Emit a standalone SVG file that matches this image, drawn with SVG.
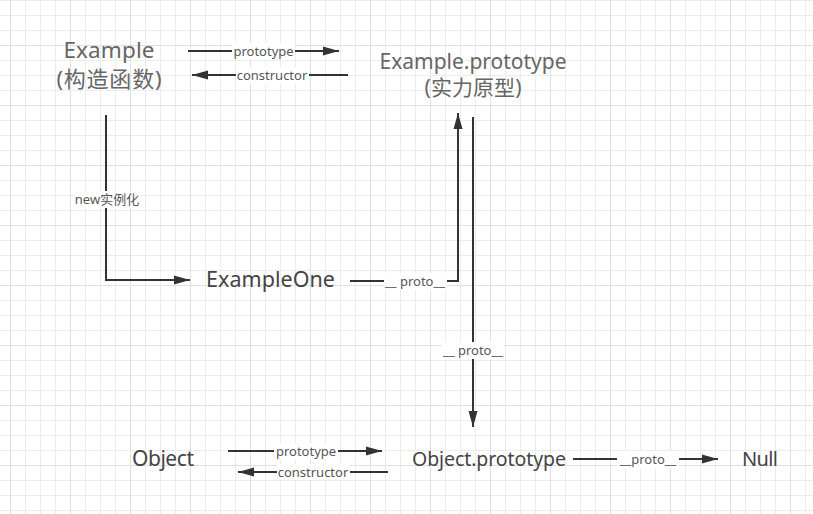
<svg xmlns="http://www.w3.org/2000/svg" width="813" height="514" viewBox="0 0 813 514">
<defs>
<pattern id="grid" x="10" y="0" width="15" height="15" patternUnits="userSpaceOnUse">
<path d="M0.5,0 V15 M0,0.5 H15" fill="none" stroke="#ececec" stroke-width="1"/>
</pattern>
<pattern id="grid4" x="10" y="45" width="60" height="60" patternUnits="userSpaceOnUse">
<path d="M0.5,0 V60 M0,0.5 H60" fill="none" stroke="#e0e0e0" stroke-width="1"/>
</pattern>
<marker id="arr" markerWidth="16" markerHeight="10" refX="16" refY="5" orient="auto" markerUnits="userSpaceOnUse">
<path d="M0,0.5 L16,5 L0,9.5 z" fill="#333"/>
</marker>
</defs>
<style>
.node{font-family:"Noto Sans","Noto Sans CJK SC",sans-serif;font-size:21px;fill:#444;text-anchor:middle}
.lite{fill:#666}
.edge{fill:none;stroke:#333;stroke-width:2;marker-end:url(#arr)}
.lbl{font-family:"Noto Sans","Noto Sans CJK SC",sans-serif;font-size:13px;fill:#555;text-anchor:middle}
.bg{fill:#fff}
</style>
<rect width="813" height="514" fill="#fff"/>
<rect width="813" height="514" fill="url(#grid)"/>
<rect width="813" height="514" fill="url(#grid4)"/>

<g id="connectors">
<path class="edge" d="M188,51 H339"/>
<rect class="bg" x="232" y="43" width="63" height="16"/>
<text class="lbl" x="263.5" y="56">prototype</text>

<path class="edge" d="M348,75 H192"/>
<rect class="bg" x="236" y="67" width="73" height="16"/>
<text class="lbl" x="272" y="80">constructor</text>

<path class="edge" d="M106,115 V280 H190"/>
<rect class="bg" x="74" y="191" width="66" height="17"/>
<text class="lbl" x="107" y="204">new实例化</text>

<path class="edge" d="M350,281 H458 V113"/>
<rect class="bg" x="384" y="273" width="63" height="17"/>
<text class="lbl" x="415" y="286">__ proto__</text>

<path class="edge" d="M473,117 V427"/>
<rect class="bg" x="442" y="342" width="62" height="17"/>
<text class="lbl" x="473" y="355">__ proto__</text>

<path class="edge" d="M228,451 H382"/>
<rect class="bg" x="274" y="443" width="64" height="16"/>
<text class="lbl" x="306" y="456">prototype</text>

<path class="edge" d="M388,472 H238"/>
<rect class="bg" x="277" y="464" width="73" height="16"/>
<text class="lbl" x="313" y="477">constructor</text>

<path class="edge" d="M573,459 H718"/>
<rect class="bg" x="617" y="451" width="62" height="17"/>
<text class="lbl" x="648" y="464">__proto__</text>
</g>

<g id="example">
<text class="node lite" x="109" y="58" style="font-size:22.5px" textLength="91">Example</text>
<text class="node lite" x="109" y="87" style="font-size:22px" textLength="105">(构造函数)</text>
</g>
<g id="example-prototype">
<text class="node lite" x="473" y="69" textLength="187">Example.prototype</text>
<text class="node lite" x="473" y="95" textLength="97">(实力原型)</text>
</g>
<g id="example-one">
<text class="node" x="270.5" y="287" style="font-size:21.5px" textLength="129">ExampleOne</text>
</g>
<g id="object">
<text class="node" x="163" y="466" textLength="62">Object</text>
</g>
<g id="object-prototype">
<text class="node" x="489" y="466" style="font-size:19.5px" textLength="154">Object.prototype</text>
</g>
<g id="null">
<text class="node" x="760" y="466" style="font-size:20px" textLength="36">Null</text>
</g>
</svg>
